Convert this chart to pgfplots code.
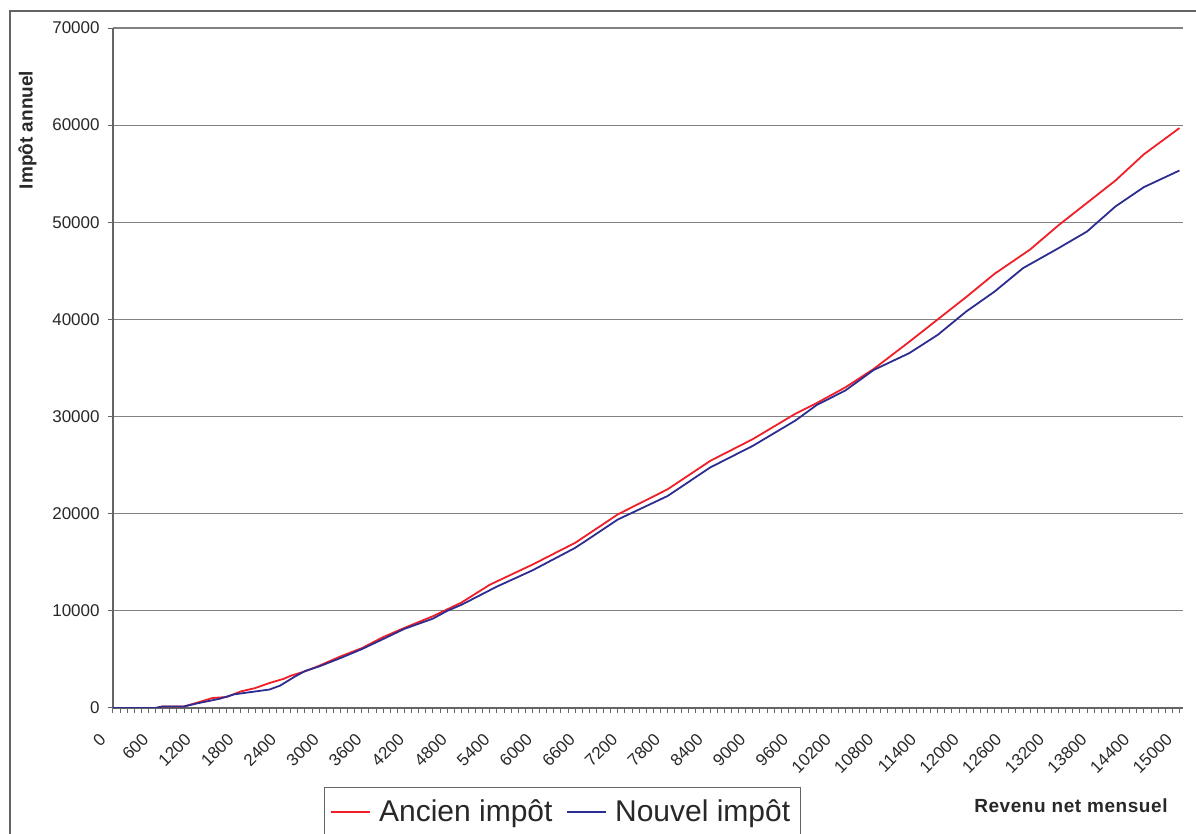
\documentclass[border=0pt]{standalone}
\usepackage{fontspec}
\setmainfont{Liberation Sans}
\usepackage{pgfplots}
\pgfplotsset{compat=1.18}
\definecolor{ancien}{RGB}{240,30,40}
\definecolor{nouvel}{RGB}{45,45,145}
\definecolor{gridgray}{RGB}{130,130,130}
\definecolor{axisgray}{RGB}{100,100,100}
\definecolor{txt}{RGB}{40,40,40}

\begin{document}
\begin{tikzpicture}[x=1pt,y=1pt]
\useasboundingbox (0,0) rectangle (598,417);
% chart area frame (Excel style)
\draw[axisgray, line width=0.7pt] (5,-5) -- (5,411.5) -- (605,411.5);
\begin{axis}[
  at={(56.5pt,63pt)}, anchor=south west,
  width=535pt, height=340pt, scale only axis,
  xmin=0, xmax=15050,
  ymin=0, ymax=70000,
  axis lines*=left,
  axis line style={axisgray, line width=0.7pt},
  xtick={0,600,...,15000},
  minor xtick={0,100,...,15000},
  ytick={0,10000,...,70000},
  tick align=outside,
  major tick length=2.5pt, minor tick length=2.5pt,
  tick style={axisgray, line width=0.5pt},
  ymajorgrids,
  major grid style={gridgray, line width=0.6pt},
  scaled ticks=false,
  /pgf/number format/.cd, 1000 sep={}, assume math mode=true,
  /pgfplots/.cd,
  ticklabel style={font=\fontsize{8.5}{10}\selectfont, text=txt},
  xticklabel style={xshift=-7.3pt, yshift=-9.4pt, rotate=45, anchor=north east, inner sep=0pt},
  yticklabel style={inner sep=0pt, xshift=-4pt},
  xlabel={\addfontfeature{LetterSpace=3}Revenu net mensuel},
  xlabel style={at={(axis description cs:0.986,-0.154)}, anchor=base east,
    font=\fontsize{9.5}{11}\selectfont\bfseries, text=txt, inner sep=0pt},
  ylabel={Impôt annuel},
  ylabel style={at={(axis description cs:-0.080,0.85)}, anchor=center,
    font=\fontsize{9.5}{11}\selectfont\bfseries, text=txt, inner sep=0pt},
  legend columns=2,
  legend style={at={(axis description cs:0.197,-0.116)}, anchor=north west,
    draw=axisgray, line width=0.7pt,
    font=\fontsize{15}{18}\selectfont, text=txt,
    inner xsep=3pt, inner ysep=4pt,
    /tikz/every odd column/.append style={column sep=2pt},
    /tikz/every even column/.append style={column sep=5pt}},
  legend image code/.code={\draw[#1, line width=0.8pt] (0pt,0pt) -- (19.5pt,0pt);},
]
\addplot[ancien, line width=0.9pt] coordinates {
(0,0) (600,0) (700,160) (1000,160) (1200,580) (1400,1030) (1600,1130)
(1800,1710) (2000,2050) (2200,2570) (2400,3000) (2500,3320) (2700,3770)
(2900,4350) (3200,5310) (3500,6160) (3800,7300) (4100,8250) (4500,9450)
(4700,10150) (4900,10850) (5300,12690) (5900,14760) (6500,17000)
(7100,19930) (7800,22510) (8400,25440) (9000,27680) (9600,30300)
(9900,31400) (10300,33000) (10700,34900) (11200,37700) (11600,40000)
(12000,42300) (12400,44700) (12900,47200) (13300,49700) (13700,52000)
(14100,54300) (14500,57000) (15000,59700)
};
\addlegendentry{Ancien impôt}
\addplot[nouvel, line width=0.9pt] coordinates {
(0,0) (600,0) (700,160) (1000,160) (1200,500) (1500,950) (1700,1400)
(1900,1600) (2200,1900) (2350,2300) (2550,3200) (2700,3800) (2900,4280)
(3200,5140) (3500,6060) (3800,7100) (4100,8150) (4500,9200) (4700,10000)
(4900,10620) (5400,12500) (5900,14170) (6500,16480) (7100,19400)
(7800,21820) (8400,24760) (9000,26990) (9600,29600) (9900,31200)
(10300,32680) (10700,34800) (11200,36530) (11600,38410) (12000,40810)
(12400,42870) (12800,45280) (13300,47340) (13700,49050) (14100,51630)
(14500,53620) (15000,55330)
};
\addlegendentry{Nouvel impôt}
\end{axis}
\end{tikzpicture}
\end{document}
